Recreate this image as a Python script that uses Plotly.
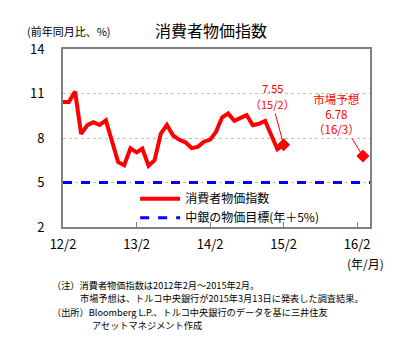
import plotly.graph_objects as go
import pandas as pd

# Data
months = pd.date_range("2012-02-01", "2015-02-01", freq="MS")
cpi = [10.43, 10.43, 11.14, 8.28, 8.87, 9.07, 8.88, 9.19, 7.80, 6.37, 6.16,
       7.31, 7.03, 7.29, 6.13, 6.51, 8.30, 8.88, 8.17, 7.88, 7.71, 7.32, 7.40,
       7.75, 7.89, 8.39, 9.38, 9.66, 9.16, 9.32, 9.54, 8.86, 8.96, 9.15, 8.17,
       7.24, 7.55]
forecast_date = ["2016-03-01"]
forecast_val = [6.78]
target_val = 5
x_range = ["2012-02-01", "2016-04-05"]
tick_vals = ["2012-02-01", "2013-02-01", "2014-02-01", "2015-02-01", "2016-02-01"]
tick_text = ["12/2", "13/2", "14/2", "15/2", "16/2"]
notes = [
    "（注）消費者物価指数は2012年2月～2015年2月。",
    "市場予想は、トルコ中央銀行が2015年3月13日に発表した調査結果。",
    "（出所）Bloomberg L.P.、トルコ中央銀行のデータを基に三井住友",
    "アセットマネジメント作成",
]
note_x = [50, 78, 50, 90]
note_y = [284.5, 298, 311.5, 325]

FONT = "Noto Sans CJK JP"
RED = "#ff0000"
BLUE = "#0000ff"

fig = go.Figure()
fig.add_trace(go.Scatter(x=months, y=cpi, mode="lines", name="消費者物価指数",
                         line=dict(color=RED, width=4)))
fig.add_trace(go.Scatter(x=x_range, y=[target_val, target_val], mode="lines",
                         name="中銀の物価目標(年＋5%)",
                         line=dict(color=BLUE, width=3, dash="dash")))
fig.add_trace(go.Scatter(x=[months[-1]], y=[cpi[-1]], mode="markers", showlegend=False,
                         marker=dict(symbol="diamond", color=RED, size=10)))
fig.add_trace(go.Scatter(x=forecast_date, y=forecast_val, mode="markers", showlegend=False,
                         marker=dict(symbol="diamond", color=RED, size=10)))

fig.update_layout(
    width=400, height=343,
    margin=dict(l=63, r=30, t=49, b=116),
    plot_bgcolor="white", paper_bgcolor="white",
    font=dict(family=FONT, color="black", size=12),
    showlegend=True,
    legend=dict(x=0.235, y=0.24, xanchor="left", yanchor="top",
                bgcolor="rgba(0,0,0,0)", font=dict(size=12, family=FONT),
                tracegroupgap=0, itemwidth=40),
    xaxis=dict(type="date", range=x_range, tickvals=tick_vals, ticktext=tick_text,
               showgrid=False, zeroline=False, showline=True, linecolor="#808080",
               linewidth=2, mirror=True, ticks="inside", ticklen=5, tickcolor="#808080",
               tickfont=dict(size=13, family=FONT), ticklabelstandoff=4),
    yaxis=dict(range=[2, 14], tickvals=[2, 5, 8, 11, 14], showgrid=True,
               gridcolor="#c8c4a0", griddash="dot", gridwidth=1,
               zeroline=False, showline=True, linecolor="#808080", linewidth=2,
               mirror=True, ticks="", tickfont=dict(size=13, family=FONT),
               ticklabelstandoff=14),
)

ann = []
ann.append(dict(text="消費者物価指数", xref="paper", yref="paper",
                x=(211 - 63) / 307, y=1 + (49 - 30) / 178, yanchor="middle",
                showarrow=False, font=dict(size=16)))
ann.append(dict(text="(前年同月比、%)", xref="paper", yref="paper",
                x=(25 - 63) / 307, y=1 + (49 - 31) / 178, xanchor="left", yanchor="middle",
                showarrow=False, font=dict(size=11)))
ann.append(dict(text="(年/月)", xref="paper", yref="paper",
                x=(386 - 63) / 307, y=-(263 - 227) / 178, xanchor="right", yanchor="middle",
                showarrow=False, font=dict(size=12)))
# 7.55 label (value line + date line with leader)
ann.append(dict(text=f"{cpi[-1]:.2f}", x=months[-1], y=cpi[-1], xshift=-11, yshift=57,
                showarrow=False, font=dict(size=11, color=RED)))
ann.append(dict(text="（15/2）", x=months[-1], y=cpi[-1], ax=-11, ay=-41,
                showarrow=True, arrowhead=0, arrowwidth=1, arrowcolor=RED,
                font=dict(size=11, color=RED)))
ann.append(dict(text=f"市場予想<br>{forecast_val[0]:.2f}<br>（16/3）",
                x=forecast_date[0], y=forecast_val[0], ax=-26, ay=-42,
                showarrow=True, arrowhead=0, arrowwidth=1, arrowcolor=RED,
                font=dict(size=11.5, color=RED)))
for t, px, py in zip(notes, note_x, note_y):
    ann.append(dict(text=t, xref="paper", yref="paper",
                    x=(px - 63) / 307, y=-(py - 227) / 178,
                    xanchor="left", yanchor="middle", showarrow=False,
                    font=dict(size=9.2)))

fig.update_layout(annotations=ann)
fig.write_html("out.html")
